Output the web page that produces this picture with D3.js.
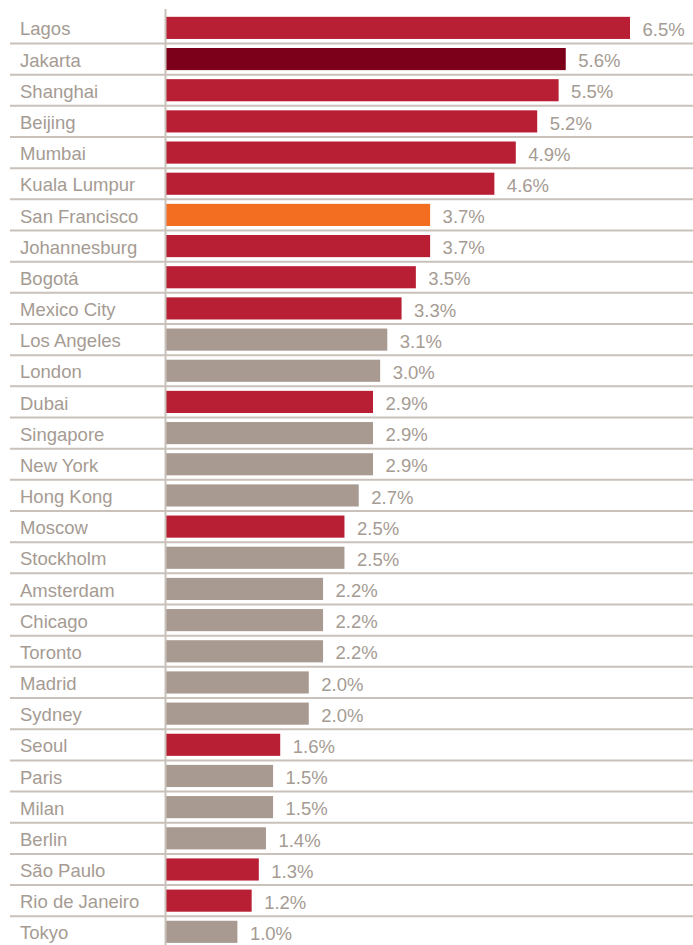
<!DOCTYPE html>
<html>
<head>
<meta charset="utf-8">
<script src="https://cdn.jsdelivr.net/npm/d3@7"></script>
<style>
  html, body { margin: 0; padding: 0; background: #fff; }
  svg { display: block; }
</style>
</head>
<body>
<svg id="chart" width="693" height="945"></svg>
<script>
// Data
// ----
const cities = ["Lagos", "Jakarta", "Shanghai", "Beijing", "Mumbai", "Kuala Lumpur",
  "San Francisco", "Johannesburg", "Bogotá", "Mexico City", "Los Angeles", "London",
  "Dubai", "Singapore", "New York", "Hong Kong", "Moscow", "Stockholm", "Amsterdam",
  "Chicago", "Toronto", "Madrid", "Sydney", "Seoul", "Paris", "Milan", "Berlin",
  "São Paulo", "Rio de Janeiro", "Tokyo"];
const growth = [6.5, 5.6, 5.5, 5.2, 4.9, 4.6, 3.7, 3.7, 3.5, 3.3, 3.1, 3.0, 2.9, 2.9,
  2.9, 2.7, 2.5, 2.5, 2.2, 2.2, 2.2, 2.0, 2.0, 1.6, 1.5, 1.5, 1.4, 1.3, 1.2, 1.0];
// group: e = emerging, h = highlight, s = san francisco, d = developed
const groups = ["e", "h", "e", "e", "e", "e", "s", "e", "e", "e", "d", "d", "e", "d",
  "d", "d", "e", "d", "d", "d", "d", "d", "d", "e", "d", "d", "d", "e", "e", "d"];

const colors = { e: "#b81f34", h: "#7c0019", s: "#f36e21", d: "#a89a91" };
const textColor = "#a59b93";
const ruleColor = "#c9c1ba";

const width = 693, height = 945;
const axisX = 166;
const font = "'Liberation Sans', Arial, sans-serif";
const svg = d3.select("#chart");

const x = d3.scaleLinear().domain([0, 6.5]).range([axisX, 630]);
const y = d3.scaleBand().domain(cities).range([12.3, 12.3 + 31.17 * cities.length])
  .paddingInner(0.29).paddingOuter(0.145);
const step = y.step();

const data = cities.map((c, i) => ({ city: c, value: growth[i], group: groups[i] }));

// separators between rows
svg.append("g").selectAll("line")
  .data(cities.slice(0, -1))
  .join("line")
  .attr("x1", 10).attr("x2", width)
  .attr("y1", d => y(d) - y.paddingOuter() * step + step)
  .attr("y2", d => y(d) - y.paddingOuter() * step + step)
  .attr("stroke", ruleColor).attr("stroke-width", 2);

// bars
svg.append("g").selectAll("rect")
  .data(data)
  .join("rect")
  .attr("x", axisX)
  .attr("y", d => y(d.city))
  .attr("width", d => x(d.value) - axisX)
  .attr("height", y.bandwidth())
  .attr("fill", d => colors[d.group]);

// vertical axis line
svg.append("line")
  .attr("x1", axisX - 0.5).attr("x2", axisX - 0.5)
  .attr("y1", 9).attr("y2", height)
  .attr("stroke", ruleColor).attr("stroke-width", 2);

// city labels
svg.append("g").selectAll("text")
  .data(data)
  .join("text")
  .attr("x", 20)
  .attr("y", d => y(d.city) + y.bandwidth() / 2 + 7.6)
  .attr("font-family", font)
  .attr("font-size", 18.5)
  .attr("fill", textColor)
  .text(d => d.city);

// value labels
svg.append("g").selectAll("text")
  .data(data)
  .join("text")
  .attr("x", d => x(d.value) + 12.5)
  .attr("y", d => y(d.city) + y.bandwidth() / 2 + 8.2)
  .attr("font-family", font)
  .attr("font-size", 18.5)
  .attr("fill", textColor)
  .text(d => d.value.toFixed(1) + "%");
</script>
</body>
</html>
